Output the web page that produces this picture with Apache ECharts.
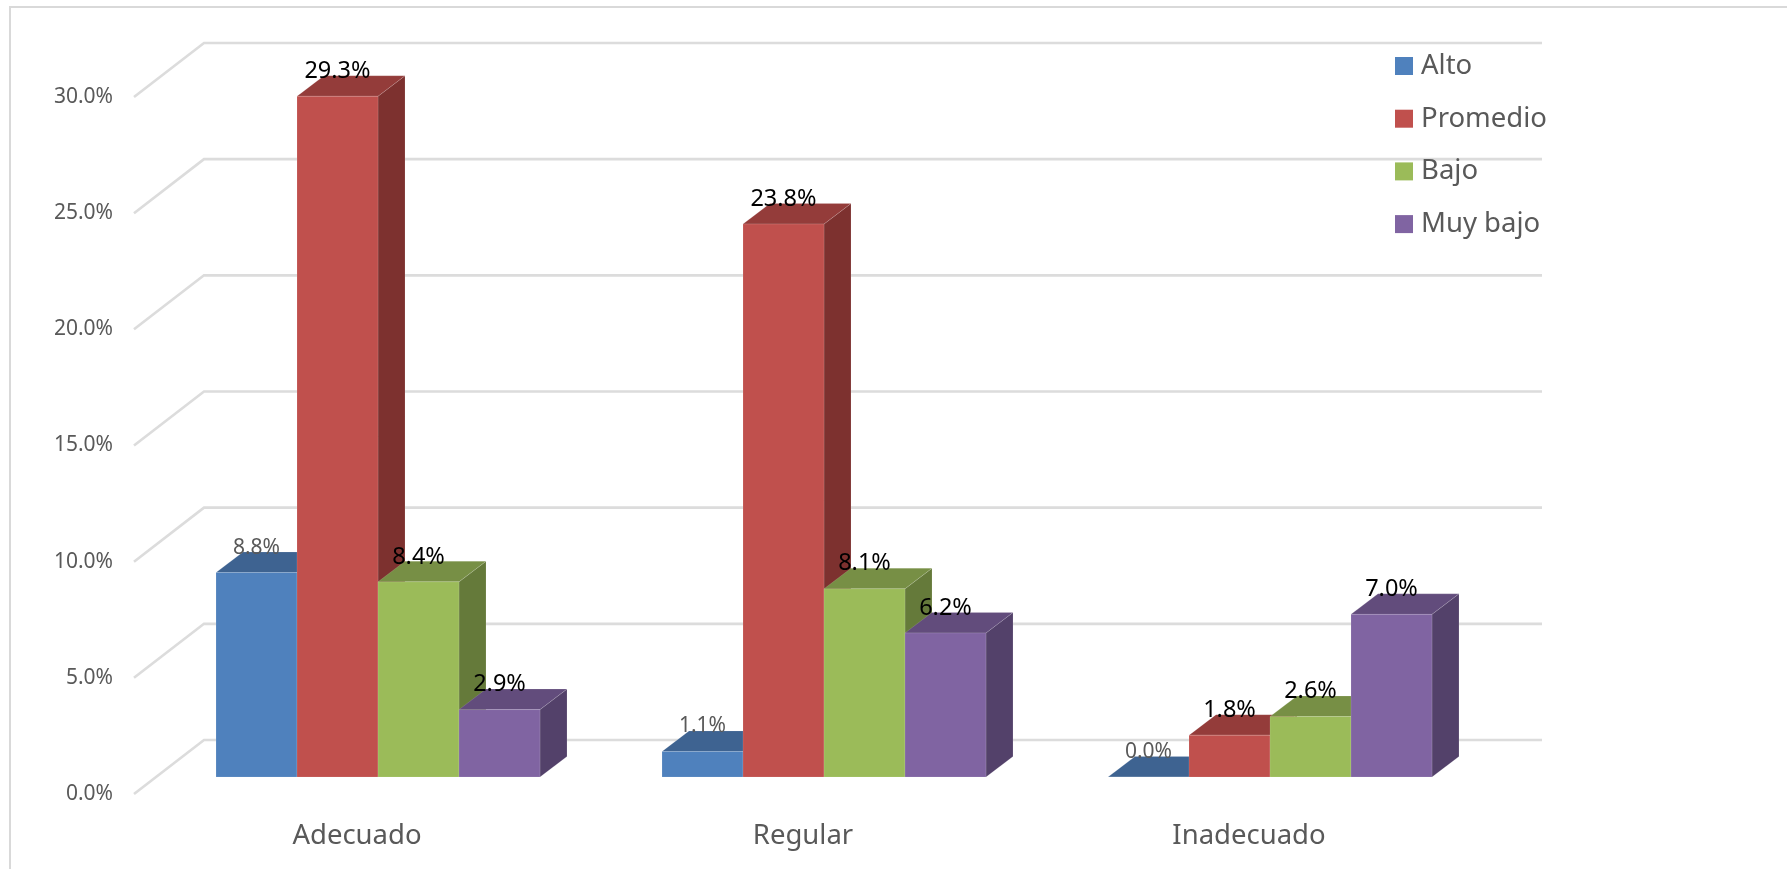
<!DOCTYPE html>
<html>
<head>
<meta charset="utf-8">
<style>html,body{margin:0;padding:0;background:#fff}#c{width:1787px;height:869px}</style>
<script src="https://cdn.jsdelivr.net/npm/echarts@6/dist/echarts.min.js"></script>
</head>
<body>
<div id="c"></div>
<script>
const categories = ['Adecuado', 'Regular', 'Inadecuado'];
const alto = [8.8, 1.1, 0.0];
const promedio = [29.3, 23.8, 1.8];
const bajo = [8.4, 8.1, 2.6];
const muyBajo = [2.9, 6.2, 7.0];
const yTicks = [0, 5, 10, 15, 20, 25, 30];

const FONT = '"Noto Sans", sans-serif';
const wall = { dx: 70, dy: -54 };
const plane = { dx: 21, dy: -17 };
const depth = { dx: 27, dy: -20.5 };
const barShare = 0.1816;

function gridRender(params, api) {
  const cs = params.coordSys;
  const y = api.coord([0, api.value(1)])[1];
  return {
    type: 'polyline',
    shape: { points: [[cs.x, y], [cs.x + wall.dx, y + wall.dy], [cs.x + cs.width + wall.dx, y + wall.dy]] },
    style: { fill: 'none', stroke: '#dcdcdc', lineWidth: 2.6 },
    silent: true
  };
}

function barRender(slot, colors, labelColor, labelSize) {
  return function (params, api) {
    const top = api.coord([api.value(0), api.value(1)]);
    const base = api.coord([api.value(0), 0]);
    const w = api.size([1, 0])[0] * barShare;
    const x0 = top[0] + plane.dx + (slot - 2) * w;
    const x1 = x0 + w;
    const yT = top[1] + plane.dy;
    const yB = base[1] + plane.dy;
    const edge = { stroke: 'rgba(255,255,255,0.12)', lineWidth: 1 };
    const poly = (pts, fill) => ({ type: 'polygon', shape: { points: pts }, style: Object.assign({ fill }, edge) });
    return {
      type: 'group',
      children: [
        poly([[x1, yT], [x1 + depth.dx, yT + depth.dy], [x1 + depth.dx, yB + depth.dy], [x1, yB]], colors[2]),
        poly([[x0, yT], [x0 + depth.dx, yT + depth.dy], [x1 + depth.dx, yT + depth.dy], [x1, yT]], colors[1]),
        poly([[x0, yT], [x1, yT], [x1, yB], [x0, yB]], colors[0]),
        {
          type: 'text', z2: 50, silent: true,
          style: {
            text: api.value(1).toFixed(1) + '%', x: (x0 + x1) / 2, y: yT - 25,
            align: 'center', verticalAlign: 'middle',
            font: labelSize + 'px ' + FONT, fill: labelColor
          }
        }
      ]
    };
  };
}

function barSeries(name, values, slot, colors, labelColor, labelSize) {
  return {
    name, type: 'custom', clip: false, silent: true,
    renderItem: barRender(slot, colors, labelColor, labelSize),
    itemStyle: { color: colors[0] },
    encode: { x: 0, y: 1 },
    data: values.map((v, i) => [i, v])
  };
}

const chart = echarts.init(document.getElementById('c'), null, { renderer: 'canvas' });
chart.setOption({
  animation: false,
  backgroundColor: '#ffffff',
  graphic: [{
    type: 'polyline',
    shape: { points: [[10, 869], [10, 7], [1787, 7]] },
    style: { fill: 'none', stroke: '#d9d9d9', lineWidth: 2 },
    silent: true
  }],
  grid: { left: 134, right: 315, top: 97, bottom: 75 },
  xAxis: {
    type: 'category', data: categories,
    axisLine: { show: false }, axisTick: { show: false }, splitLine: { show: false },
    axisLabel: { color: '#595959', fontFamily: FONT, fontSize: 27.5, margin: 28 }
  },
  yAxis: {
    type: 'value', min: 0, max: 30, interval: 5,
    axisLine: { show: false }, axisTick: { show: false }, splitLine: { show: false },
    axisLabel: { color: '#595959', fontFamily: FONT, fontSize: 21, margin: 21, padding: [4, 0, 0, 0], formatter: v => v.toFixed(1) + '%' }
  },
  legend: {
    orient: 'vertical', left: 1395, top: 48, padding: 0,
    data: ['Alto', 'Promedio', 'Bajo', 'Muy bajo'],
    icon: 'rect', itemWidth: 18, itemHeight: 18, itemGap: 16.7,
    selectedMode: false,
    textStyle: { color: '#595959', fontFamily: FONT, fontSize: 27.5, lineHeight: 36, padding: [0, 0, 0, 3] }
  },
  series: [
    {
      type: 'custom', clip: false, silent: true, z: 1,
      renderItem: gridRender, encode: { x: 0, y: 1 },
      data: yTicks.map(t => [0, t])
    },
    barSeries('Alto', alto, 0, ['#4F81BD', '#3E6391', '#3A5D87'], '#595959', 21),
    barSeries('Promedio', promedio, 1, ['#C0504D', '#943C3A', '#7D312F'], '#000000', 23.5),
    barSeries('Bajo', bajo, 2, ['#9BBB59', '#778F45', '#657A3A'], '#000000', 23.5),
    barSeries('Muy bajo', muyBajo, 3, ['#8064A2', '#624C7C', '#53416A'], '#000000', 23.5)
  ]
});
</script>
</body>
</html>
